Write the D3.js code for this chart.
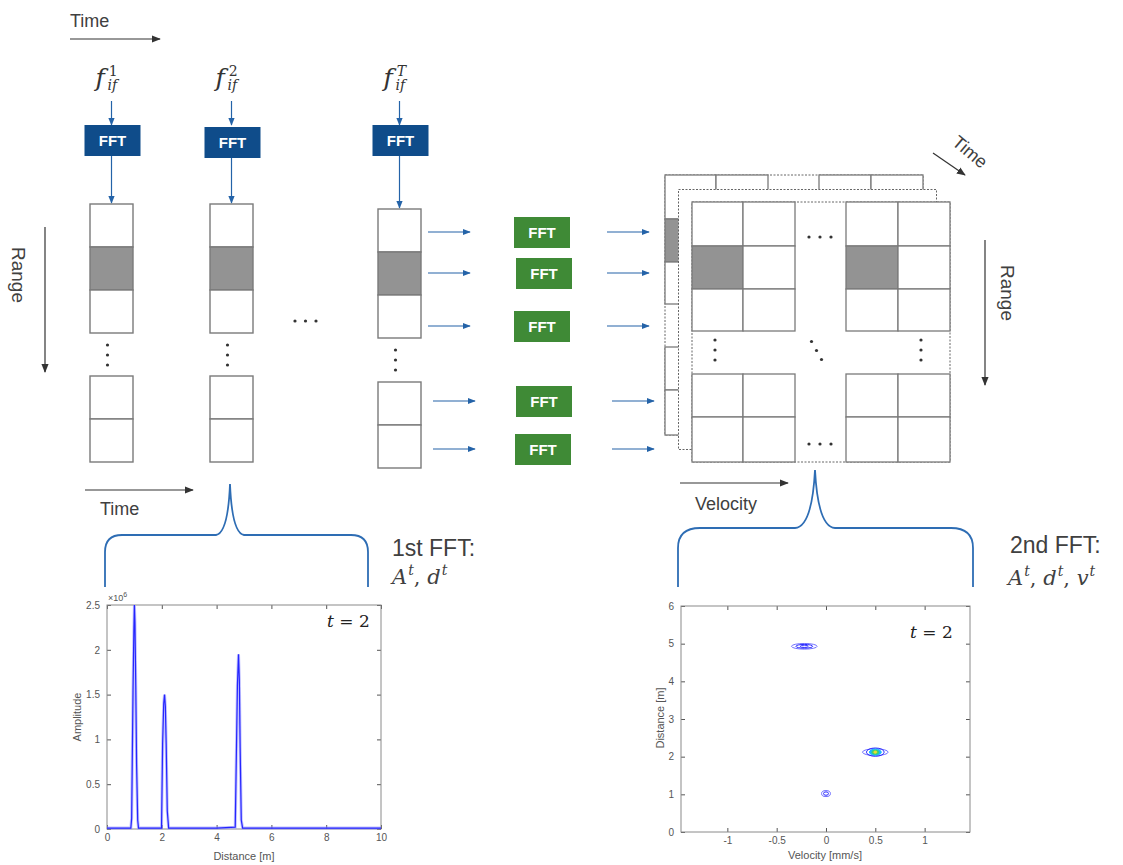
<!DOCTYPE html>
<html>
<head>
<meta charset="utf-8">
<script src="https://cdn.jsdelivr.net/npm/d3@7"></script>
<style>
body { margin: 0; background: #fff; }
svg { display: block; font-family: "Liberation Sans", Arial, sans-serif; }
</style>
</head>
<body>
<svg id="chart"></svg>
<script>
// superscripts of the chirps f_if^t
const chirps = ["1", "2", "T"];
// second FFT boxes, one per range row
const dopplerRows = ["FFT", "FFT", "FFT", "FFT", "FFT"];

// 1st FFT output at t = 2 (amplitude in units of 1e6)
const distance  = [0, 0.5, 0.87, 0.9, 0.95, 0.98, 1.0, 1.02, 1.05, 1.08, 1.12, 1.15,
                   1.5, 1.99, 2.03, 2.07, 2.1, 2.13, 2.16, 2.2, 2.25,
                   3.0, 4.0, 4.68, 4.72, 4.76, 4.8, 4.83, 4.86, 4.9, 4.95, 6, 8, 10];
const amplitude = [0.01, 0.01, 0.01, 0.12, 1.55, 2.2, 2.5, 2.3, 1.6, 0.72, 0.1, 0.01,
                   0.01, 0.01, 0.95, 1.4, 1.5, 1.37, 0.95, 0.2, 0.01,
                   0.01, 0.01, 0.02, 0.8, 1.6, 1.95, 1.67, 0.9, 0.1, 0.01, 0.01, 0.01, 0.01];
const distTicks = [0, 2, 4, 6, 8, 10];
const ampTicks  = [0, 0.5, 1, 1.5, 2, 2.5];

// 2nd FFT output at t = 2: contour rings around each target
const targetVelocity = [-0.22, 0.0, 0.5];
const targetDistance = [4.93, 1.02, 2.12];
const ringHalfWidth  = [[0.13, 0.085, 0.04], [0.045, 0.025], [0.13, 0.09, 0.06, 0.035, 0.015]];
const ringHalfHeight = [[0.075, 0.05, 0.03], [0.08, 0.045], [0.09, 0.11, 0.08, 0.055, 0.03]];
const ringLevel      = [[0, 1, 1], [0, 1], [0, 1, 2, 3, 4]];
const velTicks   = [-1, -0.5, 0, 0.5, 1];
const rangeTicks = [0, 1, 2, 3, 4, 5, 6];

const ink = "#404040";
const arrowBlue = "#2463a8";
const fftBlue = "#0f4c8a";
const fftGreen = "#3f8a36";
const cellStroke = "#7a7a7a";
const cellGrey = "#939393";
const mathFont = "'DejaVu Serif', 'Liberation Serif', serif";

const svg = d3.select("#chart").attr("width", 1123).attr("height", 865);
svg.append("rect").attr("width", 1123).attr("height", 865).attr("fill", "#fff");

const defs = svg.append("defs");
function marker(id, color, size) {
    defs.append("marker")
        .attr("id", id)
        .attr("viewBox", "0 0 10 10")
        .attr("refX", 9).attr("refY", 5)
        .attr("markerWidth", size).attr("markerHeight", size)
        .attr("markerUnits", "userSpaceOnUse")
        .attr("orient", "auto")
        .append("path").attr("d", "M0,1 L10,5 L0,9 Z").attr("fill", color);
}
marker("ab", arrowBlue, 8);
marker("ag", "#333", 9);

function arrow(x1, y1, x2, y2, id, color, w) {
    svg.append("line")
        .attr("x1", x1).attr("y1", y1).attr("x2", x2).attr("y2", y2)
        .attr("stroke", color).attr("stroke-width", w)
        .attr("marker-end", `url(#${id})`);
}
function label(x, y, txt, size, rot) {
    const t = svg.append("text")
        .attr("fill", ink).style("font-size", size + "px")
        .text(txt);
    if (rot) {
        t.attr("text-anchor", "middle").attr("dominant-baseline", "central")
         .attr("transform", `translate(${x},${y}) rotate(${rot})`);
    } else {
        t.attr("x", x).attr("y", y);
    }
    return t;
}
function dots(pts) {
    svg.append("g").selectAll("circle").data(pts).enter().append("circle")
        .attr("cx", d => d[0]).attr("cy", d => d[1]).attr("r", 1.6).attr("fill", "#333");
}

// ---- top-left: Time arrow and range axis ----
label(70, 27, "Time", 18);
arrow(70, 39, 160, 39, "ag", "#333", 1.2);
label(18, 275, "Range", 19, 90);
arrow(45, 227, 45, 372, "ag", "#333", 1.2);

// ---- chirp columns with first FFT ----
const colX = [90, 210, 378];
const colTop = [204, 204, 209];
const lowTop = [376, 376, 382];
const fftTop = [125, 127, 125];

chirps.forEach((c, i) => {
    const cx = colX[i] + 21.5;
    // f_if^t label
    const t = svg.append("text").attr("x", cx - 16).attr("y", 86)
        .attr("fill", "#333").style("font-family", mathFont).style("font-style", "italic");
    t.append("tspan").style("font-size", "25px").text("f");
    t.append("tspan").attr("dx", 4).attr("dy", -10).style("font-size", "14px")
        .style("font-style", isNaN(+c) ? "italic" : "normal").text(c);
    t.append("tspan").attr("x", cx - 4).attr("y", 90).style("font-size", "14px").text("if");

    arrow(cx, 101, cx, 125, "ab", arrowBlue, 1.2);
    svg.append("rect").attr("x", cx - 27).attr("y", fftTop[i]).attr("width", 56).attr("height", 31)
        .attr("fill", fftBlue);
    svg.append("text").attr("x", cx + 1).attr("y", fftTop[i] + 21)
        .attr("text-anchor", "middle").attr("fill", "#fff")
        .style("font-size", "15px").style("font-weight", "bold").text("FFT");
    arrow(cx, fftTop[i] + 31, cx, colTop[i] - 1, "ab", arrowBlue, 1.2);

    // upper 3 cells (middle grey) and lower 2 cells
    [0, 1, 2].forEach(k => {
        svg.append("rect").attr("x", colX[i]).attr("y", colTop[i] + k * 43)
            .attr("width", 43).attr("height", 43)
            .attr("fill", k === 1 ? cellGrey : "#fff")
            .attr("stroke", cellStroke).attr("stroke-width", 1.4);
    });
    [0, 1].forEach(k => {
        svg.append("rect").attr("x", colX[i]).attr("y", lowTop[i] + k * 43)
            .attr("width", 43).attr("height", 43)
            .attr("fill", "#fff").attr("stroke", cellStroke).attr("stroke-width", 1.4);
    });
    const dy = colTop[i] + 129;
    dots([[cx - 4, dy + 12], [cx - 4, dy + 22], [cx - 4, dy + 32]]);
});
dots([[295, 321], [305.5, 321], [316, 321]]);

// ---- second FFT per row ----
const rowY = [232, 273, 326, 401, 449];
const boxX = [514, 516, 514, 516, 515];
dopplerRows.forEach((r, i) => {
    const shift = i > 2 ? 5 : 0;
    arrow(428 + shift, rowY[i], 470 + shift, rowY[i], "ab", arrowBlue, 1.2);
    svg.append("rect").attr("x", boxX[i]).attr("y", rowY[i] - 15).attr("width", 56).attr("height", 31)
        .attr("fill", fftGreen);
    svg.append("text").attr("x", boxX[i] + 28).attr("y", rowY[i] + 6)
        .attr("text-anchor", "middle").attr("fill", "#fff")
        .style("font-size", "15px").style("font-weight", "bold").text(r);
    arrow(607 + shift, rowY[i], 649 + shift, rowY[i], "ab", arrowBlue, 1.2);
});

// ---- range-Doppler cube ----
const blocks = [
    { cols: [692, 743, 795], rows: [202, 246, 289, 331], grey: true },
    { cols: [846, 898, 950], rows: [202, 246, 289, 331], grey: true },
    { cols: [692, 743, 795], rows: [374, 417, 462] },
    { cols: [846, 898, 950], rows: [374, 417, 462] }
];
function layer(ox, oy, full) {
    const g = svg.append("g").attr("transform", `translate(${ox},${oy})`);
    g.append("rect").attr("x", 692).attr("y", 202).attr("width", 258).attr("height", 260)
        .attr("fill", "#fff").attr("stroke", "#666").attr("stroke-width", 1)
        .attr("stroke-dasharray", "2,1.5");
    if (!full) return;
    blocks.forEach(b => {
        for (let r = 0; r < b.rows.length - 1; r++) {
            for (let c = 0; c < b.cols.length - 1; c++) {
                g.append("rect")
                    .attr("x", b.cols[c]).attr("y", b.rows[r])
                    .attr("width", b.cols[c + 1] - b.cols[c]).attr("height", b.rows[r + 1] - b.rows[r])
                    .attr("fill", b.grey && r === 1 && c === 0 ? cellGrey : "#fff")
                    .attr("stroke", cellStroke).attr("stroke-width", 1.3);
            }
        }
    });
}
layer(-27, -27, true);
layer(-13.5, -12.5, false);
layer(0, 0, true);
dots([[809, 237], [820, 237], [831, 237], [809, 444], [820, 444], [831, 444],
      [715, 340], [715, 350], [715, 360], [921, 340], [921, 350], [921, 360],
      [811.5, 341.5], [816.5, 350.5], [821.5, 359.5]]);

label(970, 152, "Time", 18, 40);
arrow(933, 153, 965, 175, "ag", "#333", 1.2);
label(1007, 293, "Range", 19, 90);
arrow(985, 240, 985, 385, "ag", "#333", 1.2);

// ---- bottom arrows and braces ----
arrow(85, 490, 193, 490, "ag", "#333", 1.2);
label(100, 515, "Time", 18);
arrow(680, 483, 788, 483, "ag", "#333", 1.2);
label(695, 510, "Velocity", 18);

svg.append("path")
    .attr("d", "M105,587 L105,552 Q105,535 122,535 L216,535 Q228,533 230,484 Q232,533 244,535 L351,535 Q368,535 368,552 L368,587")
    .attr("fill", "none").attr("stroke", "#2e6db4").attr("stroke-width", 1.8);
svg.append("path")
    .attr("d", "M678,587 L678,548 Q678,528 700,528 L795,528 Q812,527 815,470 Q818,527 835,528 L951,528 Q973,528 973,548 L973,587")
    .attr("fill", "none").attr("stroke", "#2e6db4").attr("stroke-width", 1.8);

label(392, 556, "1st FFT:", 23);
label(1010, 553, "2nd FFT:", 23);
function mathLine(x, y, parts) {
    const t = svg.append("text").attr("x", x).attr("y", y).attr("fill", ink)
        .style("font-family", mathFont).style("font-style", "italic").style("font-size", "21px");
    parts.forEach((p, i) => {
        if (i > 0) t.append("tspan").attr("dy", 9).style("font-style", "normal").text(", ");
        t.append("tspan").text(p);
        t.append("tspan").attr("dx", 1).attr("dy", -9).style("font-size", "14px").text("t");
    });
}
mathLine(392, 584, ["A", "d"]);
mathLine(1008, 585, ["A", "d", "v"]);

// ---- MATLAB-like axes helper ----
const fmt = d => d3.format("~g")(d).replace("\u2212", "-");
function frame(g, x, y, xt, yt) {
    const [x0, x1] = x.range(), [y0, y1] = y.range();
    const st = s => s.selectAll("text").attr("fill", "#555").style("font-size", "10px");
    g.append("g").attr("transform", `translate(0,${y0})`)
        .call(d3.axisBottom(x).tickValues(xt).tickSize(-4).tickPadding(5).tickFormat(fmt)).call(st);
    g.append("g").attr("transform", `translate(0,${y1})`)
        .call(d3.axisTop(x).tickValues(xt).tickSize(-4).tickFormat(""));
    g.append("g").attr("transform", `translate(${x0},0)`)
        .call(d3.axisLeft(y).tickValues(yt).tickSize(-4).tickPadding(7).tickFormat(fmt)).call(st);
    g.append("g").attr("transform", `translate(${x1},0)`)
        .call(d3.axisRight(y).tickValues(yt).tickSize(-4).tickFormat(""));
    g.selectAll(".domain").remove();
    g.selectAll(".tick line").attr("stroke", "#555");
    g.append("rect").attr("x", x0).attr("y", y1).attr("width", x1 - x0).attr("height", y0 - y1)
        .attr("fill", "none").attr("stroke", "#8a8a8a").attr("stroke-width", 1);
}
function tlabel(x, y) {
    const t = svg.append("text").attr("x", x).attr("y", y).attr("fill", "#222")
        .style("font-family", mathFont).style("font-size", "17px");
    t.append("tspan").style("font-style", "italic").text("t");
    t.append("tspan").text(" = 2");
}

// ---- left plot: amplitude vs distance ----
const xD = d3.scaleLinear().domain([0, 10]).range([107, 381]);
const yA = d3.scaleLinear().domain([0, 2.5]).range([829, 605]);
const gL = svg.append("g");
frame(gL, xD, yA, distTicks, ampTicks);
const pts = distance.map((d, i) => [d, amplitude[i]]);
const line = d3.line().x(d => xD(d[0])).y(d => yA(d[1]));
gL.append("path").datum(pts).attr("d", line).attr("fill", "none")
    .attr("stroke", "#9a9aff").attr("stroke-width", 3).attr("opacity", 0.6);
gL.append("path").datum(pts).attr("d", line).attr("fill", "none")
    .attr("stroke", "#2525ff").attr("stroke-width", 1.2);
const ex = gL.append("text").attr("x", 108).attr("y", 601).attr("fill", "#555").style("font-size", "9px");
ex.append("tspan").text("\u00d710");
ex.append("tspan").attr("dy", -4).style("font-size", "7px").text("6");
gL.append("text").attr("x", 244).attr("y", 860).attr("text-anchor", "middle")
    .attr("fill", "#555").style("font-size", "11px").text("Distance [m]");
gL.append("text").attr("transform", "translate(81,717) rotate(-90)").attr("text-anchor", "middle")
    .attr("fill", "#555").style("font-size", "11px").text("Amplitude");
tlabel(327, 627);

// ---- right plot: range-velocity contours ----
const xV = d3.scaleLinear().domain([-1.47, 1.46]).range([681, 970]);
const yR = d3.scaleLinear().domain([0, 6]).range([832, 606]);
const gR = svg.append("g");
frame(gR, xV, yR, velTicks, rangeTicks);
const levelColor = d3.scaleOrdinal().domain([0, 1, 2, 3, 4])
    .range(["#7070ff", "#2a2aff", "#18b8ff", "#40d070", "#e6e030"]);
targetVelocity.forEach((v, i) => {
    ringHalfWidth[i].forEach((w, k) => {
        const lv = ringLevel[i][k];
        gR.append("ellipse")
            .attr("cx", xV(v)).attr("cy", yR(targetDistance[i]))
            .attr("rx", xV(v + w) - xV(v))
            .attr("ry", yR(targetDistance[i]) - yR(targetDistance[i] + ringHalfHeight[i][k]))
            .attr("fill", lv >= 2 ? levelColor(lv) : "none")
            .attr("stroke", levelColor(lv)).attr("stroke-width", 1);
    });
});
gR.append("text").attr("x", 825).attr("y", 859).attr("text-anchor", "middle")
    .attr("fill", "#555").style("font-size", "11px").text("Velocity [mm/s]");
gR.append("text").attr("transform", "translate(664,718) rotate(-90)").attr("text-anchor", "middle")
    .attr("fill", "#555").style("font-size", "11px").text("Distance [m]");
tlabel(910, 638);
</script>
</body>
</html>
